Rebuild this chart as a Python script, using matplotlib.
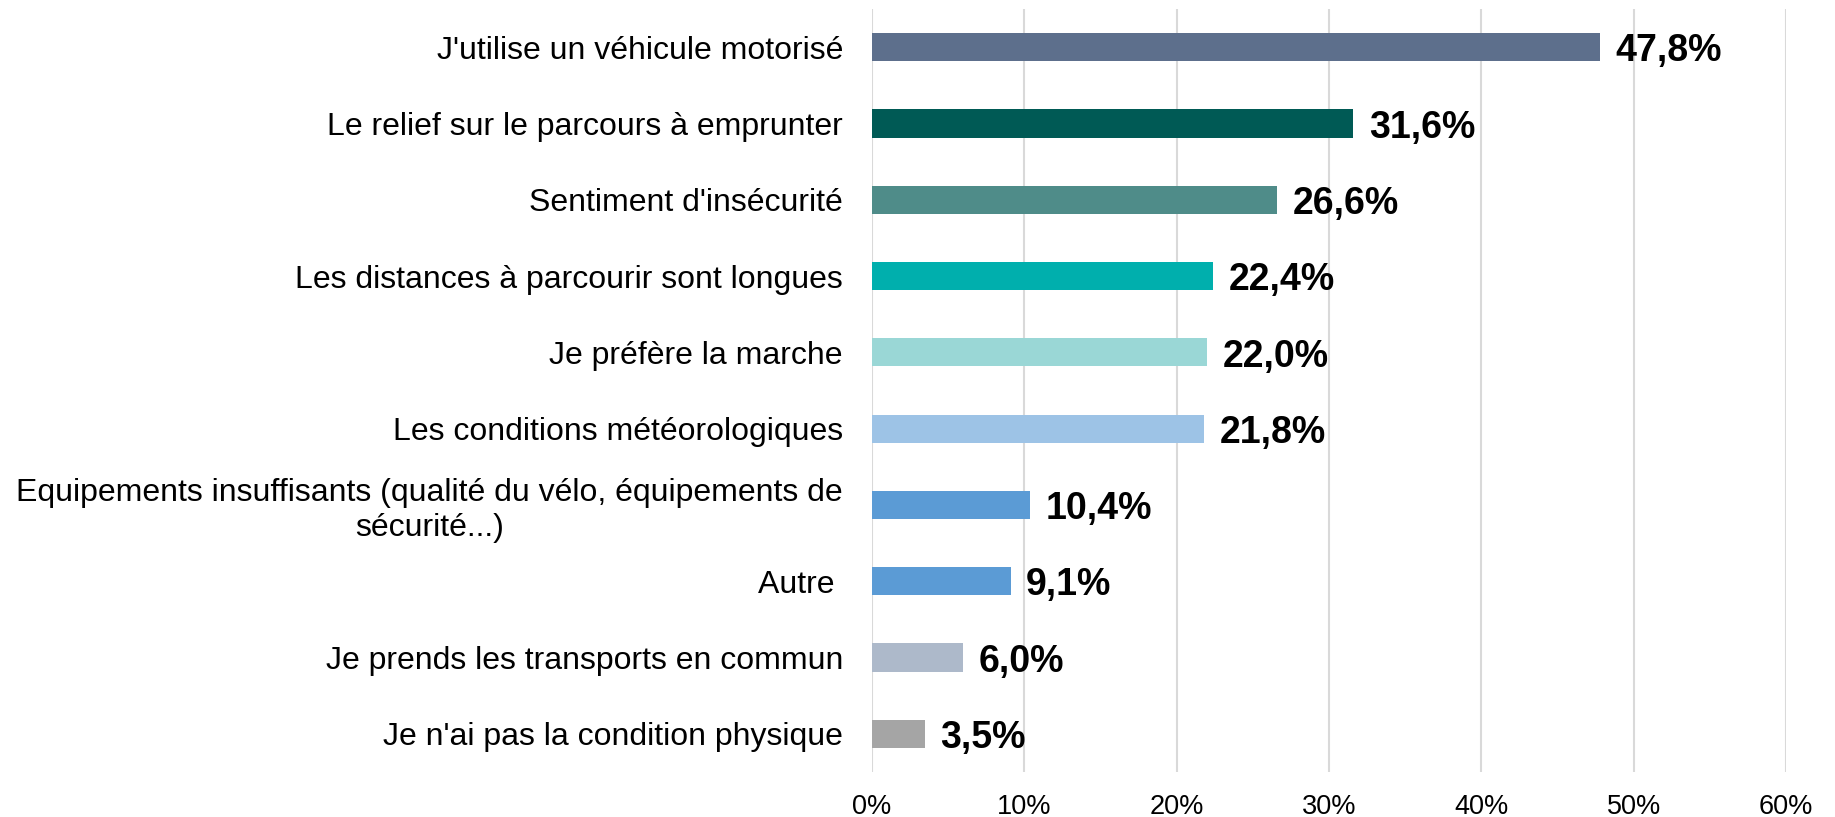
import matplotlib.pyplot as plt
import matplotlib.transforms as mtransforms
import numpy as np

# données (de haut en bas)
categories = [
    "J'utilise un véhicule motorisé",
    "Le relief sur le parcours à emprunter",
    "Sentiment d'insécurité",
    "Les distances à parcourir sont longues",
    "Je préfère la marche",
    "Les conditions météorologiques",
    "Equipements insuffisants (qualité du vélo, équipements de\nsécurité...)",
    "Autre ",
    "Je prends les transports en commun",
    "Je n'ai pas la condition physique",
]
values = [47.8, 31.6, 26.6, 22.4, 22.0, 21.8, 10.4, 9.1, 6.0, 3.5]
bar_colors = ['#5D6F8C', '#005A55', '#4F8C89', '#00AFAD', '#9AD7D6',
              '#9DC3E6', '#5B9BD5', '#5B9BD5', '#ADB9CA', '#A5A5A5']
ticks = [0, 10, 20, 30, 40, 50, 60]

plt.rcParams['font.family'] = ['Liberation Sans', 'DejaVu Sans']

fig = plt.figure(figsize=(18.35, 8.17), dpi=100)
ax = fig.add_axes([0.4752, 0.055, 0.4981, 0.934])

y = np.arange(len(categories))
ax.barh(y, values, height=0.37, color=bar_colors, zorder=3)

# étiquettes de valeur
for yi, v in zip(y, values):
    ax.annotate(f"{v:.1f}%".replace('.', ','), (v, yi), xytext=(11, -3),
                textcoords='offset points', va='center', ha='left',
                fontsize=27, fontweight='bold', color='black')

ax.set_yticks(y)
ax.set_yticklabels(categories, fontsize=23, multialignment='center')
ax.set_ylim(9.5, -0.5)

ax.set_xlim(0, 60)
ax.set_xticks(ticks)
ax.set_xticklabels([f"{t}%" for t in ticks], fontsize=19.5)
ax.tick_params(axis='both', length=0)
ax.tick_params(axis='x', pad=16)

# centrer chaque étiquette sur sa largeur, bord droit à 29 px de l'axe
fig.canvas.draw()
renderer = fig.canvas.get_renderer()
for lab in ax.get_yticklabels():
    w = lab.get_window_extent(renderer).width
    lab.set_ha('center')
    lab.set_x(0)
    lab.set_transform(ax.get_yaxis_transform() +
                      mtransforms.ScaledTranslation(-(29 + w / 2) / 100, 0,
                                                    fig.dpi_scale_trans))

ax.grid(axis='x', color='#D9D9D9', linewidth=1.5, zorder=0)
for s in ax.spines.values():
    s.set_visible(False)

fig.savefig('out.png', dpi=100)
